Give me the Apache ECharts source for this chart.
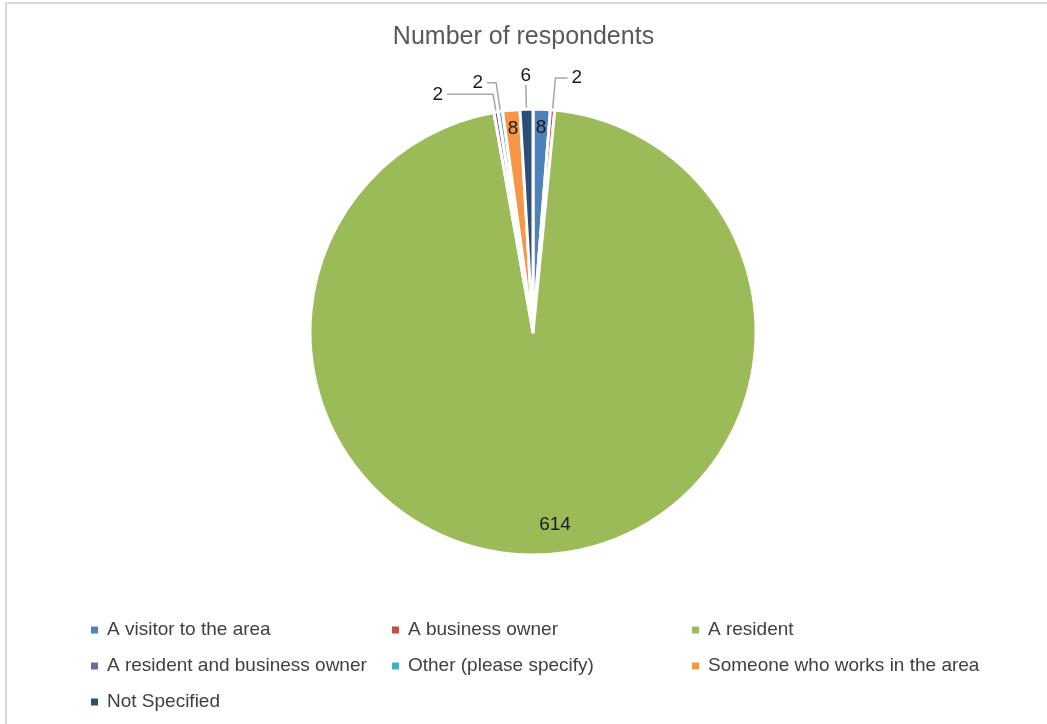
<!DOCTYPE html>
<html>
<head>
<meta charset="utf-8">
<script src="https://cdn.jsdelivr.net/npm/echarts@6/dist/echarts.min.js"></script>
<style>
  html, body { margin: 0; padding: 0; background: #fff; }
  #frame { position: absolute; left: 5px; top: 2px; width: 1100px; height: 800px;
    border-left: 2px solid #d9d9d9; border-top: 2px solid #d9d9d9; }
  #chart { position: absolute; left: 0; top: 0; width: 1047px; height: 724px; }
</style>
</head>
<body>
<div id="frame"></div>
<div id="chart"></div>
<script>
// respondent groups, in the order Excel draws them (clockwise from 12 o'clock)
const categories = [
  'A visitor to the area',
  'A business owner',
  'A resident',
  'A resident and business owner',
  'Other (please specify)',
  'Someone who works in the area',
  'Not Specified'
]
const counts = [8, 2, 614, 2, 2, 8, 6]
const colors = ['#4F81BD', '#C0504D', '#9BBB59', '#8064A2', '#4BACC6', '#F79646', '#2C4D75']

// which labels sit inside the slice, and leader line lengths for the others
const insideLabel = [true, false, true, false, false, true, false]
const lineLen = [0, 32, 0, 18, 29, 0, 21]
const lineLen2 = [0, 12, 0, 46, 9, 0, 0]

const chart = echarts.init(document.getElementById('chart'))

const labelFont = { fontFamily: 'Liberation Sans', fontSize: 19, color: '#1a1a1a' }

const mainData = categories.map((name, i) => ({
  name: name,
  value: counts[i],
  itemStyle: { color: colors[i] },
  label: { show: !insideLabel[i] },
  labelLine: { show: !insideLabel[i], length: lineLen[i], length2: lineLen2[i] }
}))

// transparent ring used only to carry the inside labels near the rim
const ringData = categories.map((name, i) => ({
  name: name,
  value: counts[i],
  label: { show: insideLabel[i] }
}))

const legendStyle = {
  icon: 'rect',
  itemWidth: 7,
  itemHeight: 7,
  itemGap: 16,
  orient: 'vertical',
  top: 615,
  selectedMode: false,
  itemStyle: { borderWidth: 0, borderColor: 'rgba(0,0,0,0)' },
  textStyle: { fontFamily: 'Liberation Sans', fontSize: 19, lineHeight: 20, color: '#404040', padding: [0, 0, 0, 4] }
}

function legendData(idx) {
  return idx.map(i => ({ name: categories[i], itemStyle: { color: colors[i], borderWidth: 0 } }))
}

chart.setOption({
  animation: false,
  title: {
    text: 'Number of respondents',
    left: 'center',
    top: 20,
    textStyle: { fontFamily: 'Liberation Sans', fontSize: 25, fontWeight: 'normal', color: '#595959' }
  },
  legend: [
    Object.assign({}, legendStyle, { left: 86, data: legendData([0, 3, 6]) }),
    Object.assign({}, legendStyle, { left: 387, data: legendData([1, 4]) }),
    Object.assign({}, legendStyle, { left: 687, data: legendData([2, 5]) })
  ],
  series: [
    {
      type: 'pie',
      center: [533, 332],
      radius: [0, 223],
      startAngle: 90,
      clockwise: true,
      avoidLabelOverlap: false,
      itemStyle: { borderColor: '#fff', borderWidth: 3 },
      label: Object.assign({ position: 'outside', formatter: '{c}', distanceToLabelLine: 4 }, labelFont),
      labelLine: { lineStyle: { color: '#a6a6a6', width: 1.5 }, minTurnAngle: 0 },
      labelLayout: function (params) {
        // the 6 sits straight above its leader line
        if (params.dataIndex === 6 && params.labelLinePoints) {
          const end = params.labelLinePoints[params.labelLinePoints.length - 1]
          return { x: end[0], y: end[1] - 3, align: 'center', verticalAlign: 'bottom' }
        }
        return {}
      },
      emphasis: { disabled: true },
      data: mainData
    },
    {
      type: 'pie',
      center: [533, 332],
      radius: [180, 223],
      startAngle: 90,
      clockwise: true,
      silent: true,
      legendHoverLink: false,
      itemStyle: { color: 'rgba(0,0,0,0)' },
      label: Object.assign({ position: 'inside', formatter: '{c}' }, labelFont),
      labelLine: { show: false },
      labelLayout: function (params) {
        if (params.dataIndex === 2) return { dx: 14, dy: -12 }
        return {}
      },
      emphasis: { disabled: true },
      data: ringData
    }
  ]
})
</script>
</body>
</html>
